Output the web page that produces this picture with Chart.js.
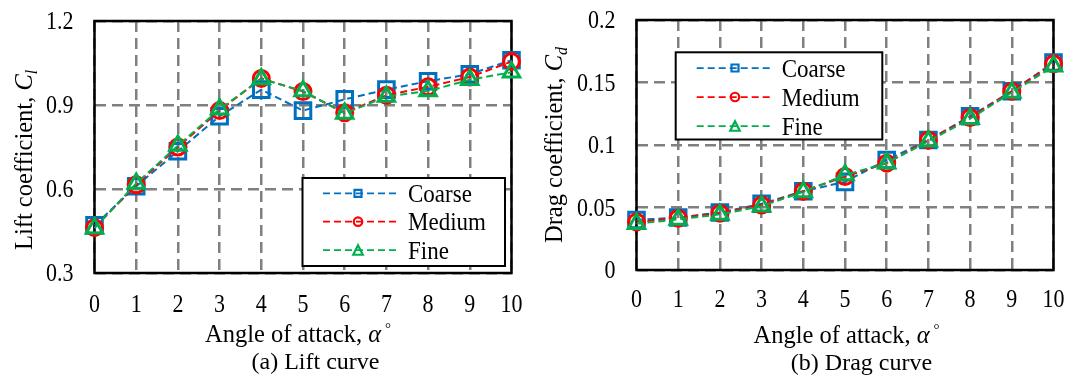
<!DOCTYPE html>
<html>
<head>
<meta charset="utf-8">
<script src="https://cdn.jsdelivr.net/npm/chart.js@4.4.1/dist/chart.umd.min.js"></script>
<style>
  html, body { margin: 0; padding: 0; background: #fff; }
  #wrap { position: relative; width: 1078px; height: 376px; overflow: hidden; }
  #wrap canvas { position: absolute; top: 0; }
  #lift { left: 0; }
  #drag { left: 539px; }
</style>
</head>
<body>
<div id="wrap">
  <canvas id="lift" width="539" height="376"></canvas>
  <canvas id="drag" width="539" height="376"></canvas>
</div>
<script>
'use strict';

// --- Data -----------------------------------------------------------------

const ANGLES = [0, 1, 2, 3, 4, 5, 6, 7, 8, 9, 10];

const LIFT_COARSE = [0.47, 0.61, 0.735, 0.86, 0.955, 0.88, 0.92, 0.955, 0.985, 1.01, 1.06];
const LIFT_MEDIUM = [0.462, 0.615, 0.75, 0.88, 0.995, 0.948, 0.872, 0.935, 0.965, 1.0, 1.055];
const LIFT_FINE   = [0.46, 0.62, 0.755, 0.885, 0.993, 0.95, 0.87, 0.93, 0.95, 0.99, 1.017];

const DRAG_COARSE = [0.040, 0.042, 0.046, 0.053, 0.063, 0.0705, 0.088, 0.104, 0.123, 0.143, 0.166];
const DRAG_MEDIUM = [0.0385, 0.0415, 0.0455, 0.052, 0.063, 0.0748, 0.0855, 0.104, 0.122, 0.143, 0.165];
const DRAG_FINE   = [0.037, 0.0405, 0.0445, 0.051, 0.0625, 0.076, 0.0855, 0.103, 0.121, 0.142, 0.163];

const LIFT_TICKS = [0.3, 0.6, 0.9, 1.2];
const DRAG_TICKS = [0, 0.05, 0.1, 0.15, 0.2];

const SERIES = ['Coarse', 'Medium', 'Fine'];

// --- Styles ---------------------------------------------------------------

const SERIF = '"Liberation Serif", "Times New Roman", serif';
const GRID = '#808080';

const STYLE = {
  Coarse: { color: '#0070C0', point: 'rect', radius: 11, legendSize: 7, order: 2 },
  Medium: { color: '#FF0000', point: 'circle', radius: 8, legendSize: 8.5, order: 1 },
  Fine:   { color: '#00B050', point: 'triangle', radius: 9.5, legendSize: 9.5, order: 0 },
};

// --- Plugins --------------------------------------------------------------

// Black box round the plot area, under the markers.
const framePlugin = {
  id: 'frame',
  beforeDatasetsDraw(chart) {
    const { ctx, chartArea: a } = chart;
    ctx.save();
    ctx.strokeStyle = '#000';
    ctx.lineWidth = 2.5;
    ctx.setLineDash([]);
    ctx.strokeRect(a.left, a.top, a.right - a.left, a.bottom - a.top);
    ctx.restore();
  },
};

// Text drawn a bit taller than the font, like the serif labels of the figure.
function tallText(ctx, text, x, y, sy) {
  ctx.save();
  ctx.translate(x, y);
  ctx.scale(1, sy);
  ctx.fillText(text, 0, 0);
  ctx.restore();
}

function fmtTick(v) {
  return String(Number(v.toFixed(2)));
}

// Tick labels, placed from the scales' own tick pixels.
const tickLabelsPlugin = {
  id: 'tickLabels',
  afterDraw(chart, args, opts) {
    const { ctx, chartArea: a } = chart;
    const { x, y } = chart.scales;
    ctx.save();
    ctx.fillStyle = '#000';
    ctx.font = opts.size + 'px ' + SERIF;
    ctx.textBaseline = 'alphabetic';

    ctx.textAlign = 'center';
    x.ticks.forEach((t, i) => {
      tallText(ctx, String(x.getLabelForValue(t.value)), x.getPixelForTick(i), a.bottom + opts.xGap, opts.stretch);
    });

    ctx.textAlign = 'right';
    y.ticks.forEach((t, i) => {
      tallText(ctx, fmtTick(t.value), a.left - opts.yGap, y.getPixelForTick(i) + opts.yShift, opts.stretch);
    });
    ctx.restore();
  },
};

function drawMarker(ctx, style, x, y, size, color, lw) {
  ctx.save();
  ctx.strokeStyle = color;
  ctx.lineWidth = lw;
  ctx.setLineDash([]);
  ctx.beginPath();
  if (style === 'rect') {
    ctx.rect(x - size / 2, y - size / 2, size, size);
  } else if (style === 'circle') {
    ctx.arc(x, y, size / 2, 0, Math.PI * 2);
  } else {
    ctx.moveTo(x, y - size / 2);
    ctx.lineTo(x + size / 2, y + size / 2);
    ctx.lineTo(x - size / 2, y + size / 2);
    ctx.closePath();
  }
  ctx.stroke();
  ctx.restore();
}

// Legend in the Excel look: dashed line with the marker in the middle.
const lineLegendPlugin = {
  id: 'lineLegend',
  afterDatasetsDraw(chart, args, opts) {
    const { ctx } = chart;
    const b = opts.box;
    ctx.save();
    ctx.fillStyle = '#fff';
    ctx.fillRect(b[0], b[1], b[2] - b[0], b[3] - b[1]);
    ctx.strokeStyle = '#000';
    ctx.lineWidth = 2;
    ctx.strokeRect(b[0], b[1], b[2] - b[0], b[3] - b[1]);

    chart.data.datasets.forEach((ds, i) => {
      const y = opts.rows[i];
      ctx.save();
      ctx.strokeStyle = ds.borderColor;
      ctx.lineWidth = 1.75;
      ctx.setLineDash([7, 4]);
      ctx.beginPath();
      ctx.moveTo(opts.lineX[0], y);
      ctx.lineTo(opts.lineX[1], y);
      ctx.stroke();
      ctx.restore();
      drawMarker(ctx, ds.pointStyle, opts.markerX, y, STYLE[ds.label].legendSize, ds.borderColor, 2.2);
      ctx.fillStyle = '#000';
      ctx.font = '23px ' + SERIF;
      ctx.textAlign = 'left';
      ctx.textBaseline = 'alphabetic';
      tallText(ctx, ds.label, opts.textX, y + 8.5, 1.06);
    });
    ctx.restore();
  },
};

// Text made of runs with their own font and baseline shift.
function drawRich(ctx, parts, x, y, align) {
  let total = 0;
  parts.forEach((p) => { ctx.font = p[1]; total += ctx.measureText(p[0]).width; });
  let cx = align === 'center' ? x - total / 2 : x;
  parts.forEach((p) => {
    ctx.font = p[1];
    ctx.fillText(p[0], cx, y + (p[2] || 0));
    cx += ctx.measureText(p[0]).width;
  });
}

const axisTitlesPlugin = {
  id: 'axisTitles',
  afterDraw(chart, args, opts) {
    const { ctx } = chart;
    ctx.save();
    ctx.fillStyle = '#000';
    ctx.textAlign = 'left';
    ctx.textBaseline = 'alphabetic';

    // y title, reads bottom to top
    ctx.save();
    ctx.translate(opts.yTitle.x, opts.yTitle.y);
    ctx.rotate(-Math.PI / 2);
    drawRich(ctx, opts.yTitle.parts, 0, 0, 'left');
    ctx.restore();

    drawRich(ctx, opts.xTitle.parts, opts.xTitle.x, opts.xTitle.y, 'center');
    drawRich(ctx, [[opts.caption.text, '24px ' + SERIF]], opts.caption.x, opts.caption.y, 'center');
    ctx.restore();
  },
};

// --- Charts ---------------------------------------------------------------

function makeDatasets(values) {
  return SERIES.map((name, i) => {
    const s = STYLE[name];
    return {
      label: name,
      data: values[i],
      borderColor: s.color,
      backgroundColor: s.color,
      borderWidth: 2,
      borderDash: [7, 4],
      tension: 0,
      pointStyle: s.point,
      pointRadius: s.radius,
      pointBorderWidth: 3,
      pointBorderColor: s.color,
      pointBackgroundColor: 'rgba(0,0,0,0)',
      clip: false,
      order: s.order,
    };
  });
}

function makeChart(canvasId, cfg) {
  return new Chart(document.getElementById(canvasId), {
    type: 'line',
    data: { labels: ANGLES, datasets: makeDatasets(cfg.values) },
    options: {
      responsive: false,
      animation: false,
      events: [],
      layout: { padding: { top: cfg.top, right: cfg.right, left: 0, bottom: 0 } },
      plugins: {
        legend: { display: false },
        tooltip: { enabled: false },
        lineLegend: cfg.legend,
        axisTitles: cfg.titles,
        tickLabels: { size: 22, stretch: 1.14, xGap: cfg.xGap, yGap: 21, yShift: 8 },
      },
      scales: {
        x: {
          grid: { color: GRID, lineWidth: 2.5, drawTicks: false },
          border: { display: false, dash: [11, 6] },
          ticks: { display: false, autoSkip: false },
          afterFit: (s) => { s.height = cfg.xHeight; },
        },
        y: {
          min: cfg.ticks[0],
          max: cfg.ticks[cfg.ticks.length - 1],
          afterBuildTicks: (axis) => { axis.ticks = cfg.ticks.map((v) => ({ value: v })); },
          grid: { color: GRID, lineWidth: 2.5, drawTicks: false },
          border: { display: false, dash: [11, 6] },
          ticks: { display: false },
          afterFit: (s) => { s.width = cfg.yWidth; },
        },
      },
    },
    plugins: [framePlugin, lineLegendPlugin, tickLabelsPlugin, axisTitlesPlugin],
  });
}

const X_TITLE = [
  ['Angle of attack, ', '24.5px ' + SERIF],
  ['\u03b1', 'italic 24.5px ' + SERIF],
  [' \u00b0', '15px ' + SERIF, -9],
];

makeChart('lift', {
  values: [LIFT_COARSE, LIFT_MEDIUM, LIFT_FINE],
  ticks: LIFT_TICKS,
  top: 21, right: 27.5, yWidth: 94.5, xHeight: 103, xGap: 38.5,
  legend: {
    box: [302.5, 178, 505, 266],
    rows: [193.3, 221.7, 250],
    lineX: [323, 397], markerX: 358, textX: 408,
  },
  titles: {
    yTitle: {
      x: 32, y: 250,
      parts: [
        ['Lift coefficient, ', '24.5px ' + SERIF],
        ['C', 'italic 24.5px ' + SERIF],
        ['l', 'italic 16px ' + SERIF, 5],
      ],
    },
    xTitle: { x: 298, y: 341.5, parts: X_TITLE },
    caption: { text: '(a) Lift curve', x: 315.5, y: 369 },
  },
});

makeChart('drag', {
  values: [DRAG_COARSE, DRAG_MEDIUM, DRAG_FINE],
  ticks: DRAG_TICKS,
  top: 20, right: 24.5, yWidth: 97.5, xHeight: 106, xGap: 36.5,
  legend: {
    box: [136.7, 52.3, 343.3, 139.5],
    rows: [68, 97, 126],
    lineX: [157.7, 232.7], markerX: 196, textX: 242.7,
  },
  titles: {
    yTitle: {
      x: 23, y: 243,
      parts: [
        ['Drag coefficient, ', '24.5px ' + SERIF],
        ['C', 'italic 24.5px ' + SERIF],
        ['d', 'italic 16px ' + SERIF, 5],
      ],
    },
    xTitle: { x: 307.5, y: 343, parts: X_TITLE },
    caption: { text: '(b) Drag curve', x: 322.5, y: 370 },
  },
});
</script>
</body>
</html>
